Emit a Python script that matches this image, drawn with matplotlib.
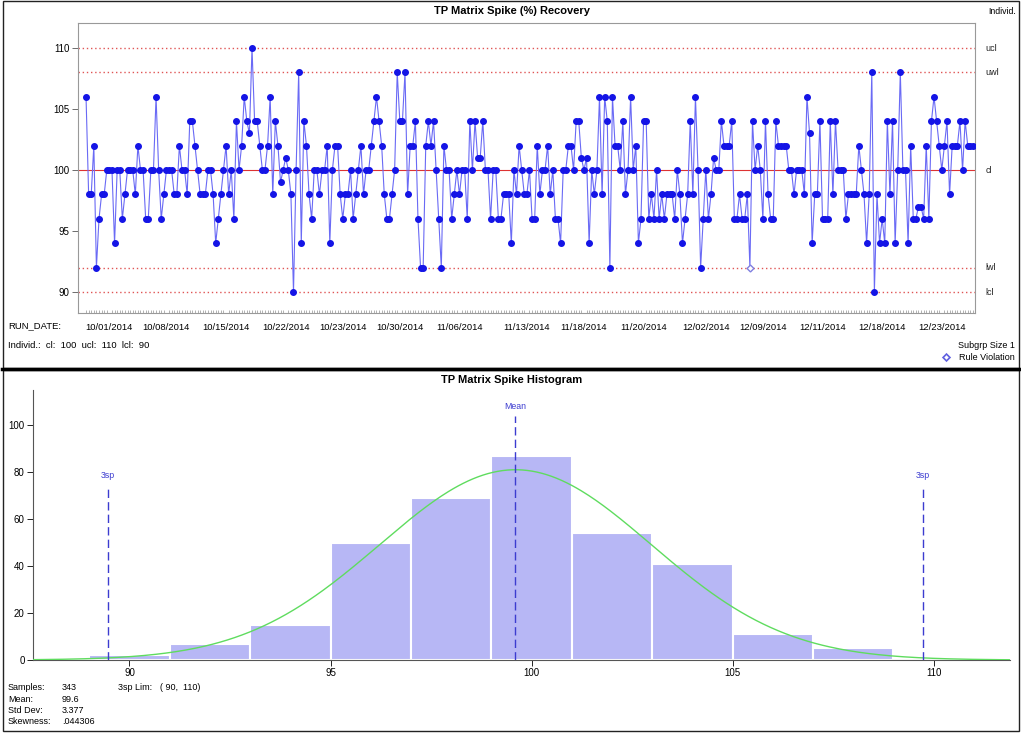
"""
TP Matrix Spike (%) Recovery: individuals control chart + histogram panel.
Output: out.png
"""

import numpy as np
import matplotlib
matplotlib.use("Agg")
import matplotlib.pyplot as plt
from matplotlib.patches import Rectangle
from matplotlib.lines import Line2D
import matplotlib.transforms as mtransforms

plt.rcParams["font.family"] = ["Liberation Sans", "DejaVu Sans"]

W, H = 1021, 733

# ── Data ─────────────────────────────────────────────────────────────────────
recovery = [
    106, 98, 98, 102, 92, 96, 98, 98, 100, 100, 100, 94, 100, 100, 96, 98, 100, 100, 100, 98,
    102, 100, 100, 96, 96, 100, 100, 106, 100, 96, 98, 100, 100, 100, 98, 98, 102, 100, 100, 98,
    104, 104, 102, 100, 98,
    98, 98, 100, 100, 98, 94, 96, 98, 100, 102, 98, 100, 96, 104, 100, 102, 106, 104, 103, 110,
    104, 104, 102, 100, 100, 102, 106, 98, 104, 102, 99, 100, 101, 100, 98, 90, 100, 108, 94, 104,
    102, 98, 96, 100,
    100, 98, 100, 100, 102, 94, 100, 102, 102, 98, 96, 98, 98, 100, 96, 98, 100, 102, 98, 100,
    100, 102, 104, 106, 104, 102, 98, 96, 96, 98, 100, 108, 104, 104, 108, 98, 102, 102, 104, 96,
    92, 92, 102, 104,
    102, 104, 100, 96, 92, 102, 100, 100, 96, 98, 100, 98, 100, 100, 96, 104, 100, 104, 101, 101,
    104, 100, 100, 96, 100, 100, 96, 96, 98, 98, 98, 94, 100, 98, 102, 100, 98, 98, 100, 96,
    96, 102, 98, 100,
    100, 102, 98, 100, 96, 96, 94, 100, 100, 102, 102, 100, 104, 104, 101, 100, 101, 94, 100, 98,
    100, 106, 98, 106, 104, 92, 106, 102, 102, 100, 104, 98, 100, 106, 100, 102, 94, 96, 104, 104,
    96, 98, 96, 100,
    96, 98, 96, 98, 98, 98, 96, 100, 98, 94, 96, 98, 104, 98, 106, 100, 92, 96, 100, 96,
    98, 101, 100, 100, 104, 102, 102, 102, 104, 96, 96, 98, 96, 96, 98, 92, 104, 100, 102, 100,
    96, 104, 98, 96,
    96, 104, 102, 102, 102, 102, 100, 100, 98, 100, 100, 100, 98, 106, 103, 94, 98, 98, 104, 96,
    96, 96, 104, 98, 104, 100, 100, 100, 96, 98, 98, 98, 98, 102, 100, 98, 94, 98, 108, 90,
    98, 94, 96, 94, 104,
    98, 104, 94, 100, 108, 100, 100, 94, 102, 96, 96, 97, 97, 96, 102, 96, 104, 106, 104, 102,
    100, 102, 104, 98, 102, 102, 102, 104, 100, 104, 102, 102, 102,
]
violations = [256]

limit_names = ["ucl", "uwl", "cl", "lwl", "lcl"]
limit_values = [110, 108, 100, 92, 90]

date_ticks = [9, 31, 54, 77, 99, 121, 144, 170, 192, 215, 239, 261, 284, 307, 330]
date_labels = ["10/01/2014", "10/08/2014", "10/15/2014", "10/22/2014", "10/23/2014",
               "10/30/2014", "11/06/2014", "11/13/2014", "11/18/2014", "11/20/2014",
               "12/02/2014", "12/09/2014", "12/11/2014", "12/18/2014", "12/23/2014"]

bin_left = [89, 91, 93, 95, 97, 99, 101, 103, 105, 107]
bin_counts = [2, 7, 15, 50, 69, 87, 54, 41, 11, 5]
bin_width = 2

n_samples = 343
mean_val = 99.6
sd_val = 3.377
skew_txt = ".044306"


def fx(px):
    return px / W


def fy(py):
    return 1 - py / H


fig = plt.figure(figsize=(W / 100, H / 100), dpi=100)

# ── Panel frames ─────────────────────────────────────────────────────────────
fig.add_artist(Rectangle((fx(3), fy(368)), fx(1016), 367 / H, transform=fig.transFigure,
                         fill=False, ec="#222222", lw=1))
fig.add_artist(Line2D([fx(2), fx(1019)], [fy(368.5), fy(368.5)], transform=fig.transFigure,
                      color="black", lw=2.5))
fig.add_artist(Rectangle((fx(3), fy(731)), fx(1016), 361 / H, transform=fig.transFigure,
                         fill=False, ec="#222222", lw=1))

# ── Top: control chart ───────────────────────────────────────────────────────
ax1 = fig.add_axes([fx(78), fy(313), fx(975 - 78), (313 - 23) / H])
x = np.arange(len(recovery))
y = np.array(recovery, dtype=float)

for name, val in zip(limit_names, limit_values):
    if name == "cl":
        ax1.axhline(val, color="#dd3333", lw=0.8, zorder=1)
    else:
        ax1.axhline(val, color="#e05555", lw=1.0, ls=(0, (1, 2)), zorder=1)
    ax1.text(1.012, val, name, transform=mtransforms.blended_transform_factory(ax1.transAxes, ax1.transData),
             ha="left", va="center", fontsize=6.5, color="#222222")

ok = np.ones(len(y), dtype=bool)
ok[violations] = False
ax1.plot(x, y, color="#6a6af5", lw=0.8, zorder=2)
ax1.plot(x[ok], y[ok], "o", color="#1414e6", ms=4, mec="#1414e6", zorder=3)
ax1.plot(x[violations], y[violations], "D", mfc="white", mec="#8080e0", ms=3.5, mew=1, zorder=4)

ax1.set_xlim(-3.1, 342.8)
ax1.set_ylim(88.28, 112.05)
ax1.set_yticks([90, 95, 100, 105, 110])
ax1.tick_params(axis="y", labelsize=7, length=4, width=0.6, color="#555555", pad=2)
ax1.set_xticks(date_ticks)
ax1.set_xticklabels(date_labels, fontsize=6.8)
ax1.set_xticks(x, minor=True)
ax1.tick_params(axis="x", which="major", length=0, pad=7)
ax1.tick_params(axis="x", which="minor", length=2.5, direction="in", width=0.4, color="#777777")
for sp in ax1.spines.values():
    sp.set_color("#999999")
    sp.set_linewidth(0.8)

fig.text(fx(512), fy(11), "TP Matrix Spike (%) Recovery", ha="center", va="center",
         fontsize=8, fontweight="bold")
fig.text(fx(988), fy(12), "Individ.", ha="left", va="center", fontsize=6.3)
fig.text(fx(8), fy(326), "RUN_DATE:", ha="left", va="center", fontsize=6.8)
fig.text(fx(8), fy(346), "Individ.:  cl:  100  ucl:  110  lcl:  90", ha="left", va="center",
         fontsize=6.8)
fig.text(fx(1015), fy(345), "Subgrp Size 1", ha="right", va="center", fontsize=6.5)
fig.text(fx(1015), fy(357), "Rule Violation", ha="right", va="center", fontsize=6.5)
fig.add_artist(Line2D([fx(946)], [fy(357)], transform=fig.transFigure, marker="D",
                      ms=3.5, mfc="white", mec="#6060e0", mew=1.2, ls="none"))

# ── Bottom: histogram ────────────────────────────────────────────────────────
ax2 = fig.add_axes([fx(33), fy(660), fx(1010 - 33), (660 - 390) / H])
ax2.bar(bin_left, bin_counts, width=bin_width, align="edge", color="#b7b7f5",
        edgecolor="white", lw=1.5, zorder=2)

xs = np.linspace(87.6, 112, 400)
pdf = np.exp(-0.5 * ((xs - mean_val) / sd_val) ** 2) / (sd_val * np.sqrt(2 * np.pi))
ax2.plot(xs, n_samples * bin_width * pdf, color="#5fdc5f", lw=1, zorder=3)

lo3 = mean_val - 3 * sd_val
hi3 = mean_val + 3 * sd_val
ax2.plot([mean_val, mean_val], [0, 104], color="#3c3cd0", lw=1, ls=(0, (6, 3)), zorder=4)
ax2.text(mean_val, 108, "Mean", ha="center", va="center", fontsize=6.3, color="#3c3cd0")
for v in (lo3, hi3):
    ax2.plot([v, v], [0, 74.5], color="#3c3cd0", lw=1, ls=(0, (6, 3)), zorder=4)
    ax2.text(v, 78.5, "3sp", ha="center", va="center", fontsize=6.3, color="#3c3cd0")

ax2.set_xlim(87.6, 111.9)
ax2.set_ylim(0, 115)
ax2.set_xticks([90, 95, 100, 105, 110])
ax2.set_yticks([0, 20, 40, 60, 80, 100])
ax2.tick_params(labelsize=7, length=4, width=0.6, pad=2)
ax2.spines[["top", "right"]].set_visible(False)
for sp in ("left", "bottom"):
    ax2.spines[sp].set_color("#555555")
    ax2.spines[sp].set_linewidth(0.8)

fig.text(fx(512), fy(380), "TP Matrix Spike Histogram", ha="center", va="center",
         fontsize=8, fontweight="bold")

rows = [("Samples:", str(n_samples)), ("Mean:", f"{mean_val}"),
        ("Std Dev:", f"{sd_val}"), ("Skewness:", skew_txt)]
for i, (k, v) in enumerate(rows):
    yy = 688 + i * 11.3
    fig.text(fx(8), fy(yy), k, ha="left", va="center", fontsize=6.5)
    fig.text(fx(62), fy(yy), v, ha="left", va="center", fontsize=6.5)
fig.text(fx(118), fy(688), "3sp Lim:", ha="left", va="center", fontsize=6.5)
fig.text(fx(160), fy(688), "( 90,  110)", ha="left", va="center", fontsize=6.5)

fig.savefig("out.png", dpi=100)
plt.close(fig)
